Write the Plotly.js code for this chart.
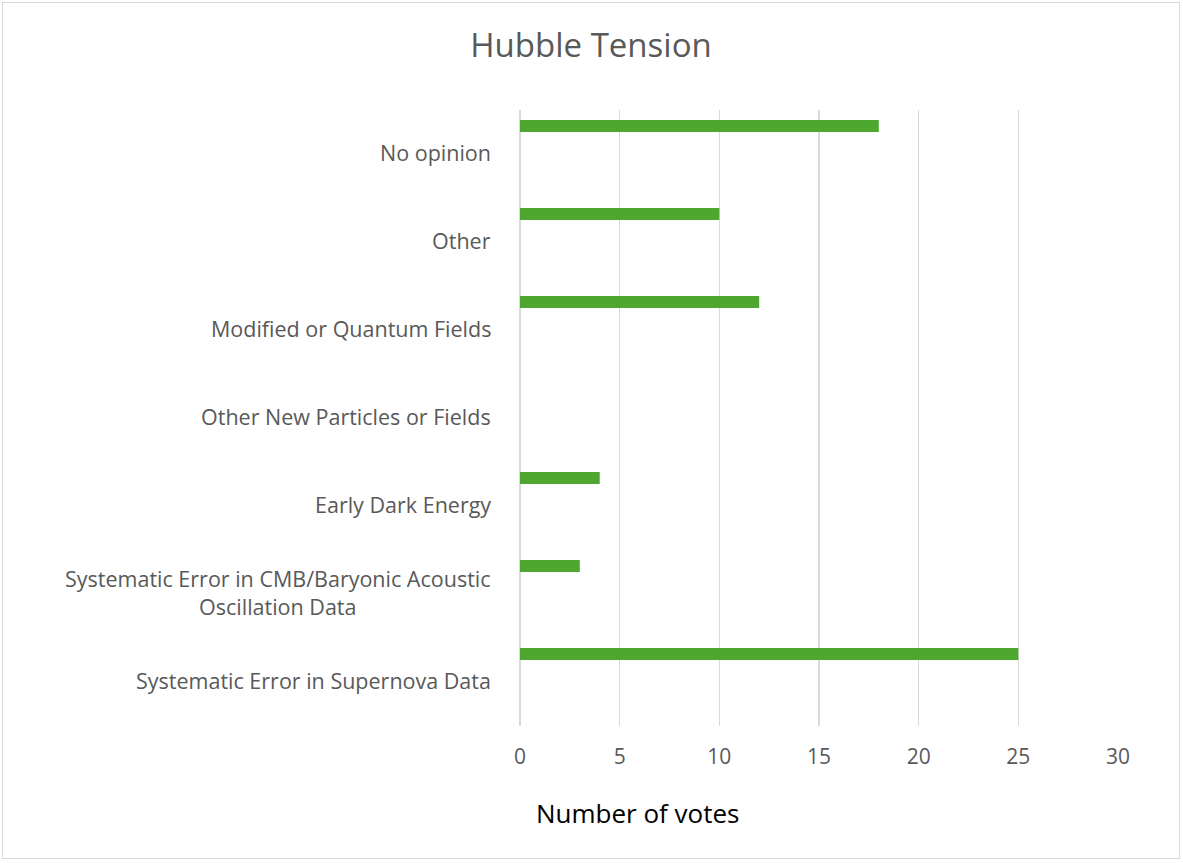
<!DOCTYPE html>
<html>
<head>
<meta charset="utf-8">
<script src="https://cdn.plot.ly/plotly-3.0.1.min.js"></script>
<style>
  body { margin: 0; background: #fff; }
  #wrap { position: relative; width: 1183px; height: 863px; }
  #chart { width: 1183px; height: 863px; }
  #frame { position: absolute; left: 2px; top: 2px; width: 1176px; height: 855px;
           border: 1.5px solid #d9d9d9; pointer-events: none; }
</style>
</head>
<body>
<div id="wrap">
  <div id="chart"></div>
  <div id="frame"></div>
</div>
<script>
// bottom-to-top order, as the category axis draws them
const categories = [
    'Systematic Error in Supernova Data',
    'Systematic Error in CMB/Baryonic Acoustic<br>Oscillation Data',
    'Early Dark Energy',
    'Other New Particles or Fields',
    'Modified or Quantum Fields',
    'Other',
    'No opinion'
];
const votes = [25, 3, 4, 0, 12, 10, 18];
const xTicks = [0, 5, 10, 15, 20, 25, 30];

const grey = '#595959';
const font = 'Open Sans, Liberation Sans, sans-serif';

const trace = {
    type: 'bar',
    orientation: 'h',
    y: categories,
    x: votes,
    width: 0.136,
    offset: 0.25,
    marker: { color: '#4ea72e', line: { width: 0 } },
    hoverinfo: 'x+y'
};

// category labels as annotations so two-line labels stay centred
const labels = categories.map(c => ({
    text: c,
    xref: 'paper', yref: 'y',
    x: -27 / 598, y: c,
    xanchor: 'right', yanchor: 'middle',
    align: 'center',
    yshift: 2,
    showarrow: false,
    font: { family: font, size: 21.5, color: grey }
}));

// axis title sits left of the plot centre in the original, so place it by hand
labels.push({
    text: 'Number of votes',
    xref: 'paper', yref: 'paper',
    x: (638 - 520) / 598, y: -(813 - 726) / 616,
    xanchor: 'center', yanchor: 'middle',
    showarrow: false,
    font: { family: font, size: 26, color: '#000' }
});

const layout = {
    width: 1183, height: 863,
    margin: { l: 520, r: 65, t: 110, b: 137 },
    paper_bgcolor: '#fff', plot_bgcolor: '#fff',
    showlegend: false,
    title: {
        text: 'Hubble Tension',
        font: { family: font, size: 33, color: grey },
        x: 591 / 1183, xref: 'container', xanchor: 'center',
        y: 1 - 45 / 863, yref: 'container', yanchor: 'middle'
    },
    xaxis: {
        range: [0, 30],
        tickvals: xTicks,
        ticktext: xTicks.map(String),
        showgrid: true, gridcolor: '#d9d9d9', gridwidth: 1.5,
        zeroline: true, zerolinecolor: '#d9d9d9', zerolinewidth: 1.5,
        showline: false,
        ticks: '',
        ticklabelstandoff: 16,
        tickfont: { family: font, size: 21, color: grey },
        fixedrange: true
    },
    yaxis: {
        type: 'category',
        categoryorder: 'array',
        categoryarray: categories,
        range: [-0.5, categories.length - 0.5],
        showticklabels: false,
        showgrid: false, zeroline: false, showline: false,
        ticks: '',
        fixedrange: true
    },
    annotations: labels
};

Plotly.newPlot('chart', [trace], layout, { displayModeBar: false, staticPlot: true });
</script>
</body>
</html>
